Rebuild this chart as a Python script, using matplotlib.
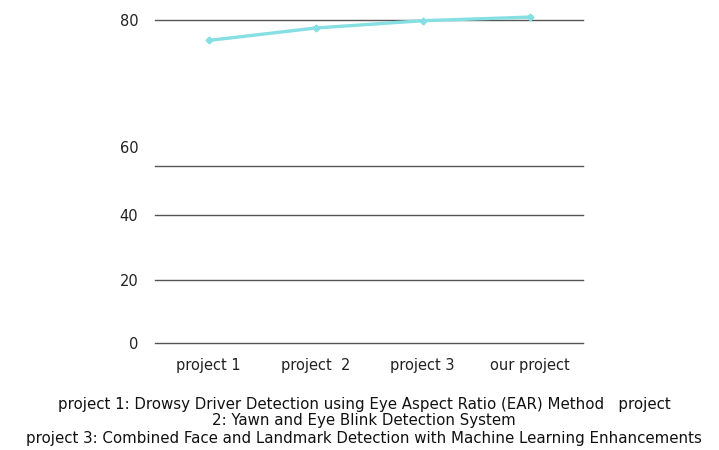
import numpy as np
import matplotlib
matplotlib.use("Agg")
from matplotlib import pyplot as plt
from matplotlib import transforms

categories = ["project 1", "project  2", "project 3", "our project"]
scores = [77.2, 78.9, 79.9, 80.4]
yticks = [0, 20, 40, 60, 80]
# the source chart squeezes 0-60 and stretches 60-80; map values to screen units
scale_vals = [0, 20, 40, 60, 80, 100]
scale_pos = [0, 63, 128, 177, 323, 469]
footer = [
    "project 1: Drowsy Driver Detection using Eye Aspect Ratio (EAR) Method   project",
    "2: Yawn and Eye Blink Detection System",
    "project 3: Combined Face and Landmark Detection with Machine Learning Enhancements",
]


def fwd(v):
    return np.interp(v, scale_vals, scale_pos)


def inv(p):
    return np.interp(p, scale_pos, scale_vals)


W, H = 719, 450
fig = plt.figure(figsize=(W / 100, H / 100), dpi=100)
ax = fig.add_axes([155 / W, 107 / H, (583 - 155) / W, 337.6 / H])
ax.set_yscale("function", functions=(fwd, inv))
ax.set_ylim(0, 82)
ax.set_xlim(-0.5, len(categories) - 0.5)

x = np.arange(len(categories))
ax.plot(x, scores, color="#86dfe3", lw=2.4, marker="D", ms=3.5,
        markerfacecolor="#86dfe3", markeredgecolor="#86dfe3", zorder=3)

ax.set_yticks(yticks)
ax.set_yticklabels([str(t) for t in yticks])
ax.yaxis.grid(True, color="#555555", lw=1.0)
for g in ax.yaxis.get_gridlines():
    g.set_clip_on(False)
ax.set_axisbelow(True)
for s in ax.spines.values():
    s.set_visible(False)
ax.tick_params(axis="y", length=0, pad=12, labelsize=10.5, labelcolor="#222222")
ax.set_xticks(x)
ax.set_xticklabels(categories)
ax.tick_params(axis="x", length=0, pad=11, labelsize=10.5, labelcolor="#222222")

# the "60" label sits above its gridline in the source
lab60 = ax.get_yticklabels()[3]
lab60.set_transform(lab60.get_transform() +
                    transforms.ScaledTranslation(0, 19 / 100, fig.dpi_scale_trans))

for txt, yp in zip(footer, [405, 420, 438]):
    fig.text(364 / W, 1 - yp / H, txt, ha="center", va="center", fontsize=10.8, color="#111111")

fig.savefig("out.png", dpi=100)
